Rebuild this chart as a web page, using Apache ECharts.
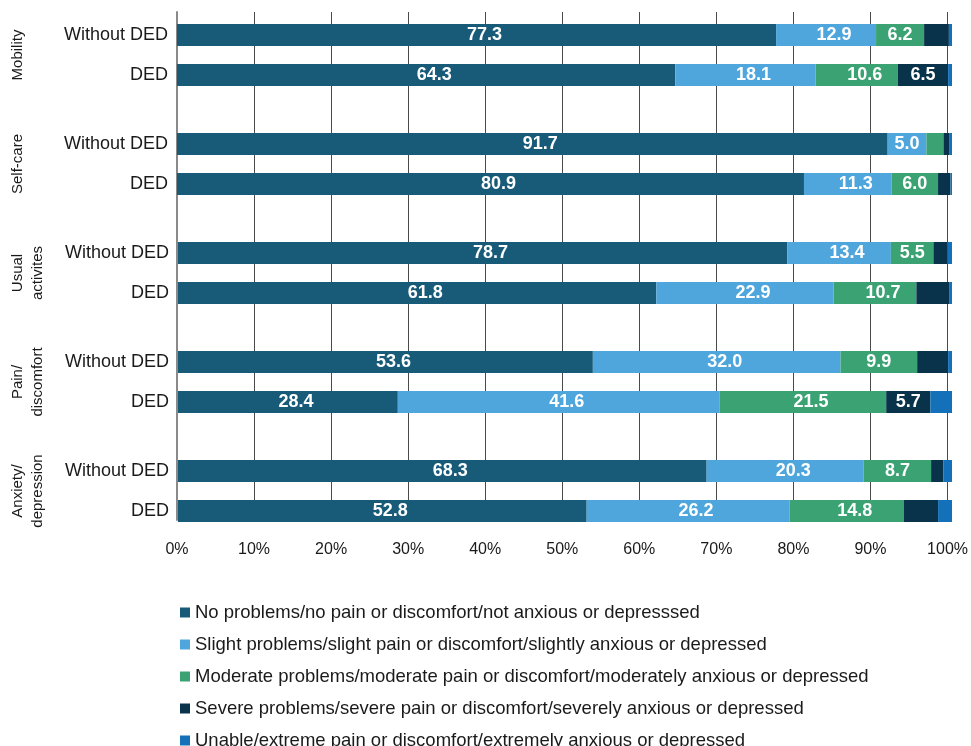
<!DOCTYPE html>
<html>
<head>
<meta charset="utf-8">
<script src="https://cdn.jsdelivr.net/npm/echarts@6/dist/echarts.min.js"></script>
<style>
  html, body { margin: 0; padding: 0; background: #fff; }
  #chart { width: 971px; height: 746px; }
</style>
</head>
<body>
<div id="chart"></div>
<script>
// domains (one grid each), two bars per domain
var groups = ['Mobility', 'Self-care', 'Usual\nactivites', 'Pain/\ndiscomfort', 'Anxiety/\ndepression'];
var rows = ['Without DED', 'DED'];
var levels = [
  'No problems/no pain or discomfort/not anxious or depresssed',
  'Slight problems/slight pain or discomfort/slightly anxious or depressed',
  'Moderate problems/moderate pain or discomfort/moderately anxious or depressed',
  'Severe problems/severe pain or discomfort/severely anxious or depressed',
  'Unable/extreme pain or discomfort/extremely anxious or depressed'
];
var colors = ['#185b78', '#4fa6dc', '#3ba373', '#08334a', '#1470b8'];

// percent per bar, order: Mobility w/o, Mobility DED, Self-care w/o, ...
var noProblems = [77.3, 64.3, 91.7, 80.9, 78.7, 61.8, 53.6, 28.4, 68.3, 52.8];
var slight     = [12.9, 18.1, 5.0, 11.3, 13.4, 22.9, 32.0, 41.6, 20.3, 26.2];
var moderate   = [6.2, 10.6, 2.2, 6.0, 5.5, 10.7, 9.9, 21.5, 8.7, 14.8];
var severe     = [3.2, 6.5, 0.8, 1.6, 1.8, 4.3, 4.0, 5.7, 1.6, 4.4];
var unable     = [0.4, 0.5, 0.3, 0.2, 0.6, 0.3, 0.5, 2.8, 1.1, 1.8];

var values = [noProblems, slight, moderate, severe, unable];

var chart = echarts.init(document.getElementById('chart'));
var FONT = 'Liberation Sans, Arial, sans-serif';
var L = 177, R = 19;

// background grid: gridlines, % labels, left axis line
var grids = [{ left: L, right: R, top: 12, bottom: 226 }];
var xAxes = [{
  gridIndex: 0, type: 'value', min: 0, max: 100, interval: 10,
  axisLine: { show: false }, axisTick: { show: false },
  splitLine: { show: true, lineStyle: { color: '#4a4a4a', width: 1 } },
  axisLabel: { formatter: '{value}%', fontFamily: FONT, fontSize: 16, color: '#1a1a1a', margin: 22 }
}];
var yAxes = [{
  gridIndex: 0, type: 'value', min: 0, max: 1,
  axisLine: { show: true, onZero: false, lineStyle: { color: '#8a8a8a', width: 2 } },
  axisTick: { show: false }, axisLabel: { show: false }, splitLine: { show: false }
}];
var series = [];

groups.forEach(function (g, i) {
  var gi = i + 1;
  grids.push({ left: L, right: R, top: 15 + 109 * i, height: 80 });
  xAxes.push({ gridIndex: gi, type: 'value', min: 0, max: 100, show: false });
  yAxes.push({
    gridIndex: gi, type: 'category', data: rows, inverse: true,
    axisLine: { show: false }, axisTick: { show: false },
    axisLabel: { fontFamily: FONT, fontSize: 18, color: '#1a1a1a', margin: 9 },
    name: g, nameLocation: 'middle', nameRotate: 90,
    nameGap: g.indexOf('\n') >= 0 ? 130 : 149,
    nameTextStyle: { fontFamily: FONT, fontSize: 15, color: '#1a1a1a', lineHeight: 20 }
  });
  levels.forEach(function (lv, k) {
    series.push({
      name: lv, type: 'bar', stack: 'g' + i,
      xAxisIndex: gi, yAxisIndex: gi,
      barWidth: 22,
      itemStyle: { color: colors[k] },
      label: {
        show: true, position: 'inside', color: '#fff',
        fontFamily: FONT, fontWeight: 'bold', fontSize: 18,
        formatter: function (p) { return p.value.toFixed(1); }
      },
      data: [values[k][2 * i], values[k][2 * i + 1]].map(function (v) {
        return { value: v, label: { show: v >= 5, offset: [v >= 10 ? 8 : 0, 0] } };
      })
    });
  });
});

chart.setOption({
  animation: false,
  grid: grids,
  xAxis: xAxes,
  yAxis: yAxes,
  legend: {
    orient: 'vertical', left: 175, top: 598, height: 200,
    itemWidth: 10, itemHeight: 10, itemGap: 13,
    icon: 'rect',
    data: levels,
    textStyle: { fontFamily: FONT, fontSize: 18.5, color: '#1a1a1a' }
  },
  series: series
});
</script>
</body>
</html>
